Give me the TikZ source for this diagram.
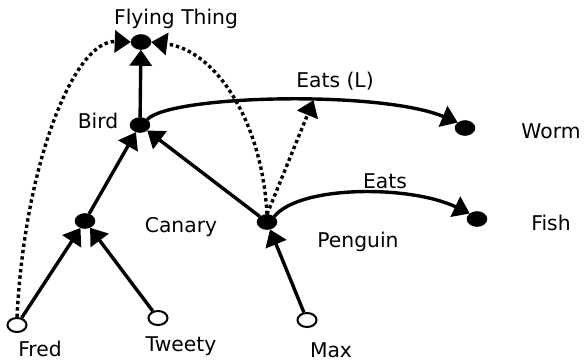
\documentclass[tikz,border=0pt]{standalone}
\usepackage{fontspec}
\setmainfont{DejaVu Sans}
\usetikzlibrary{arrows.meta,shapes.geometric}
\begin{document}
\begin{tikzpicture}[x=1pt,y=-1pt,
  dotnode/.style={ellipse,fill=black,draw=black,line width=0.5pt,minimum width=20pt,minimum height=15pt,inner sep=0pt},
  opennode/.style={ellipse,fill=white,draw=black,line width=2pt,minimum width=19pt,minimum height=14pt,inner sep=0pt},
  lbl/.style={anchor=base,inner sep=0pt,font=\fontsize{20.3}{24}\selectfont},
  arr/.style={line width=3.4pt,-{Triangle[length=16pt,width=22pt]}},
  dottedarr/.style={arr,dash pattern=on 3.4pt off 3pt}]
\useasboundingbox (0,0) rectangle (584,362);
% nodes
\node[dotnode] (ft) at (141,42) {};
\node[dotnode] (bird) at (140,125) {};
\node[dotnode] (canary) at (85,221) {};
\node[dotnode] (penguin) at (267,222) {};
\node[dotnode] (worm) at (465,128) {};
\node[dotnode] (fish) at (477,219) {};
\node[opennode] (fred) at (17,325) {};
\node[opennode] (tweety) at (158,318) {};
\node[opennode] (max) at (307,320) {};
% labels
\node[lbl] (lft) at (176,24) {Flying Thing};
\node[lbl] (lbird) at (98,128) {Bird};
\node[lbl] (lcan) at (181,232) {Canary};
\node[lbl] (lpen) at (358,247) {Penguin};
\node[lbl] (lworm) at (551,138) {Worm};
\node[lbl] (lfish) at (551,230) {Fish};
\node[lbl] (lfred) at (40,356) {Fred};
\node[lbl] (ltw) at (181,351) {Tweety};
\node[lbl] (lmax) at (331,357) {Max};
\node[lbl] (leatsl) at (335,87) {Eats (L)};
\node[lbl] (leats) at (385,188) {Eats};
% solid edges
\draw[arr] (bird) -- (ft);
\draw[arr] (canary) -- (bird);
\draw[arr] (penguin) -- (bird);
\draw[arr] (fred) -- (canary);
\draw[arr] (tweety) -- (canary);
\draw[arr] (max) -- (penguin);
\draw[arr] (bird.north east) .. controls (170,95) and (380,90) .. coordinate[pos=0.58] (eatsl) (worm.north west);
\draw[arr] (penguin.north east) .. controls (300,185) and (410,185) .. (fish.north west);
% dotted edges
\draw[dottedarr] (fred.north) .. controls (25,160) and (75,40) .. (ft.west);
\draw[dottedarr] (penguin.north) .. controls (262,120) and (215,50) .. (ft.east);
\draw[dottedarr] (penguin.north) -- (eatsl);
\end{tikzpicture}
\end{document}
